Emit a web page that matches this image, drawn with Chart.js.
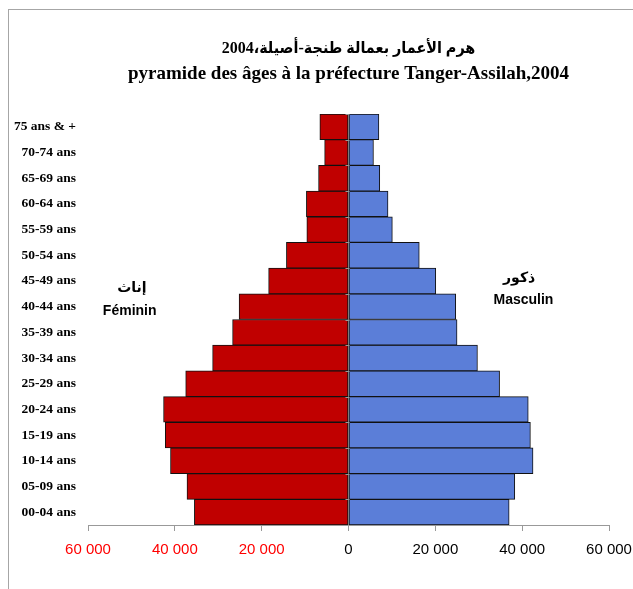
<!DOCTYPE html>
<html>
<head>
<meta charset="utf-8">
<script src="https://cdn.jsdelivr.net/npm/chart.js@4"></script>
<style>
html, body { margin: 0; padding: 0; background: #fff; overflow: hidden; }
#cadre { position: absolute; left: 8px; top: 9px; width: 700px; height: 600px;
         border-left: 1px solid #a6a6a6; border-top: 1px solid #a6a6a6; }
#graf { position: absolute; left: 0; top: 0; }
</style>
</head>
<body>
<div id="cadre"><canvas id="graf" width="680" height="580"></canvas></div>
<script>
// tranches d'âge, de la plus jeune à la plus âgée
const tranches = ['00-04 ans', '05-09 ans', '10-14 ans', '15-19 ans', '20-24 ans', '25-29 ans',
    '30-34 ans', '35-39 ans', '40-44 ans', '45-49 ans', '50-54 ans', '55-59 ans',
    '60-64 ans', '65-69 ans', '70-74 ans', '75 ans & +'];
const feminin = [35500, 37200, 41000, 42200, 42600, 37500, 31300, 26700, 25200, 18400,
    14300, 9600, 9700, 6900, 5500, 6600];
const masculin = [37000, 38300, 42500, 41900, 41400, 34800, 29700, 25000, 24700, 20100,
    16300, 10100, 9100, 7200, 5750, 7000];
const titreArabe = 'هرم الأعمار بعمالة طنجة-أصيلة،2004';
const titreFrancais = 'pyramide des âges à la préfecture Tanger-Assilah,2004';
const graduations = [-60000, -40000, -20000, 0, 20000, 40000, 60000];

// textes posés dans le graphique (valeur x, index de tranche)
const notes = [
    { texte: 'إناث', x: -49900, y: 8.73, police: 'bold 14px "DejaVu Sans"' },
    { texte: 'Féminin', x: -50400, y: 7.83, police: 'bold 14px "Liberation Sans"' },
    { texte: 'ذكور', x: 39300, y: 9.1, police: 'bold 14px "DejaVu Sans"' },
    { texte: 'Masculin', x: 40300, y: 8.26, police: 'bold 14px "Liberation Sans"' }
];

function millier(v) {
    return String(Math.abs(v)).replace(/\B(?=(\d{3})+(?!\d))/g, ' ');
}

const pluginNotes = {
    id: 'notes',
    afterDraw(chart) {
        const ctx = chart.ctx;
        const sx = chart.scales.x, sy = chart.scales.y;
        ctx.save();
        ctx.fillStyle = '#000';
        ctx.textAlign = 'center';
        ctx.textBaseline = 'middle';
        notes.forEach(n => {
            ctx.font = n.police;
            ctx.fillText(n.texte, sx.getPixelForValue(n.x), sy.getPixelForValue(n.y));
        });
        // petites graduations sur l'axe central
        const x0 = Math.round(sx.getPixelForValue(0)) + 0.5;
        ctx.strokeStyle = '#999';
        ctx.lineWidth = 1;
        for (let i = 0; i <= tranches.length; i++) {
            const y = Math.round(sy.getPixelForValue(i - 0.5)) + 0.5;
            ctx.beginPath();
            ctx.moveTo(x0 - 4, y);
            ctx.lineTo(x0, y);
            ctx.stroke();
        }
        ctx.restore();
    }
};

new Chart(document.getElementById('graf'), {
    type: 'bar',
    data: {
        labels: tranches,
        datasets: [
            {
                label: 'Féminin',
                data: feminin.map(v => -v),
                backgroundColor: '#C00000',
                borderColor: '#111',
                borderWidth: 1,
                borderSkipped: false
            },
            {
                label: 'Masculin',
                data: masculin,
                backgroundColor: '#5B7ED8',
                borderColor: '#111',
                borderWidth: 1,
                borderSkipped: false
            }
        ]
    },
    options: {
        indexAxis: 'y',
        responsive: false,
        animation: false,
        barPercentage: 1,
        categoryPercentage: 1,
        layout: { padding: { left: 0, right: 80, top: 0, bottom: 25 } },
        plugins: {
            legend: { display: false },
            tooltip: { enabled: false },
            title: {
                display: true,
                fullSize: false,
                text: titreArabe,
                color: '#000',
                font: { family: '"Liberation Serif", "DejaVu Sans Condensed", "DejaVu Sans", serif', size: 16, weight: 'bold', lineHeight: '20px' },
                padding: { top: 29, bottom: 2 }
            },
            subtitle: {
                display: true,
                fullSize: false,
                text: titreFrancais,
                color: '#000',
                font: { family: '"Liberation Serif", serif', size: 19, weight: 'bold', lineHeight: '22px' },
                padding: { top: 2, bottom: 29 }
            }
        },
        scales: {
            x: {
                stacked: true,
                min: -60000,
                max: 60000,
                afterBuildTicks(axis) {
                    axis.ticks = graduations.map(v => ({ value: v }));
                },
                afterFit(axis) { axis.height = 40; },
                grid: {
                    color: c => (c.tick && c.tick.value === 0 ? '#999' : 'rgba(0,0,0,0)'),
                    tickColor: '#999',
                    tickLength: 6
                },
                border: { display: true, color: '#999', width: 1 },
                ticks: {
                    padding: 10,
                    font: { family: '"Liberation Sans", Arial, sans-serif', size: 15 },
                    color: c => (c.tick.value < 0 ? '#FF0000' : '#000'),
                    callback: v => millier(v)
                }
            },
            y: {
                stacked: true,
                reverse: true,
                afterFit(axis) { axis.width = 79; },
                grid: { display: false, drawTicks: false },
                border: { display: false },
                ticks: {
                    padding: 12,
                    color: '#000',
                    font: { family: '"Liberation Serif", serif', size: 13.5, weight: 'bold' }
                }
            }
        }
    },
    plugins: [pluginNotes]
});
</script>
</body>
</html>
